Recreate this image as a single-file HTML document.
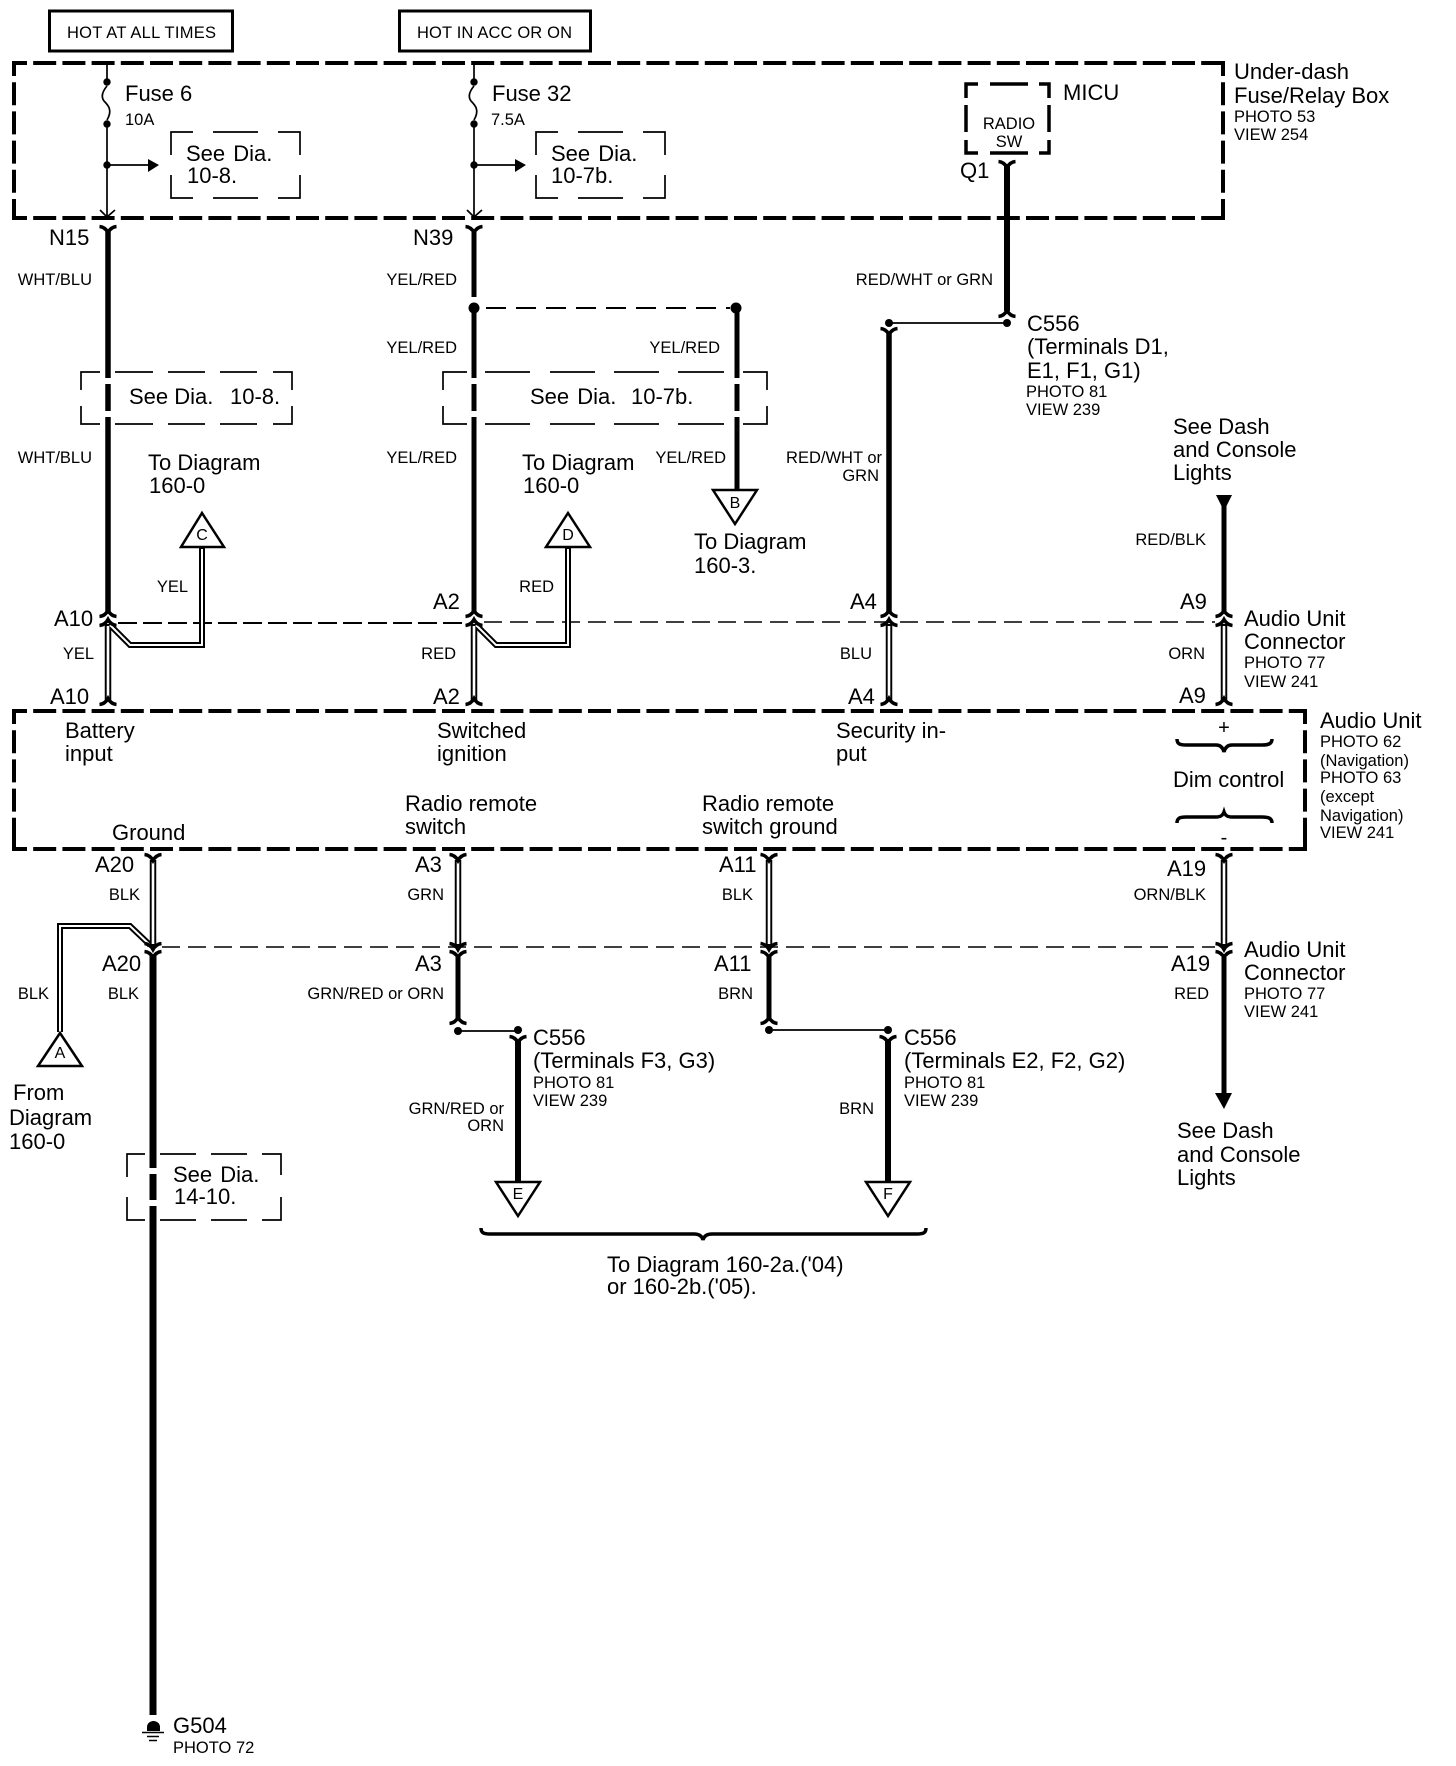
<!DOCTYPE html>
<html><head><meta charset="utf-8"><style>
html,body{margin:0;padding:0;background:#fff}
svg{display:block}
text{font-family:"Liberation Sans",sans-serif;fill:#000}
.b{font-size:22px}.s{font-size:16.5px}.t{font-size:16px;text-anchor:middle}
.e{text-anchor:end}
.n{fill:none;stroke:#000}
.w{word-spacing:2px}
</style></head><body>
<svg xmlns="http://www.w3.org/2000/svg" width="1456" height="1766" viewBox="0 0 1456 1766">
<rect width="1456" height="1766" fill="#fff"/>
<defs>
<path id="cy" class="n" stroke-width="3.5" d="M-8.5,-3.5 Q-3,-3 0,2.5 Q3,-3 8.5,-3.5"/>
<path id="ca" class="n" stroke-width="3.5" d="M-8.5,3.5 Q-3,3 0,-2.5 Q3,3 8.5,3.5"/>
</defs>

<!-- top boxes -->
<rect x="49.5" y="11" width="183" height="40" class="n" stroke-width="3"/>
<rect x="399.5" y="11" width="191" height="40" class="n" stroke-width="3"/>
<text class="s" x="67" y="38" font-size="17" textLength="149">HOT AT ALL TIMES</text>
<text class="s" x="417" y="38" textLength="155">HOT IN ACC OR ON</text>

<!-- heavy dashed boxes -->
<g class="n" stroke-width="4">
<g stroke-dasharray="23 6.2" stroke-dashoffset="10">
<path d="M14,63 H1223"/><path d="M14,218 H1223"/><path d="M14,63 V218"/><path d="M1223,63 V218"/>
<path d="M14,711 H1305"/><path d="M14,849 H1305"/><path d="M14,711 V849"/><path d="M1305,711 V849"/>
</g>
<path d="M14,75 V63 H26 M1211,63 H1223 V75 M14,206 V218 H26 M1211,218 H1223 V206"/>
<path d="M14,723 V711 H26 M1293,711 H1305 V723 M14,837 V849 H26 M1293,849 H1305 V837"/>
</g>

<!-- fuses -->
<g class="n" stroke-width="1.7">
<path d="M107,65 V82 M107,124 V217"/>
<path d="M107,86 C102,92 101,97 104,101 C108,105 113,110 107,120"/>
<path d="M107,165 H150"/>
<path d="M100,210 L107,217 L115,210"/>
<path d="M474,65 V82 M474,124 V217"/>
<path d="M474,86 C469,92 468,97 471,101 C475,105 480,110 474,120"/>
<path d="M474,165 H518"/>
<path d="M467,210 L474,217 L482,210"/>
</g>
<g>
<circle cx="107" cy="82" r="3.7"/><circle cx="107" cy="124" r="3.7"/><circle cx="107" cy="165" r="3.7"/>
<circle cx="474" cy="82" r="3.7"/><circle cx="474" cy="124" r="3.7"/><circle cx="474" cy="165" r="3.7"/>
<path d="M148,159 L159,165 L148,172 Z"/><path d="M515,159 L526,165 L515,172 Z"/>
</g>
<text class="b" x="125" y="101">Fuse 6</text><text class="s" x="125" y="125">10A</text>
<text class="b" x="492" y="101">Fuse 32</text><text class="s" x="491" y="125">7.5A</text>

<!-- thin dashed see-dia boxes -->
<g class="n" stroke-width="1.7">
<path d="M193,132 H171 V155 M213,132 H258 M278,132 H300 V155 M171,175 V198 H193 M213,198 H258 M278,198 H300 V175"/>
<path d="M558,132 H536 V155 M578,132 H623 M643,132 H665 V155 M536,175 V198 H558 M578,198 H623 M643,198 H665 V175"/>
<path d="M100,372 H81 V390 M81,406 V424 H100 M115,372 H153 M168,372 H205 M220,372 H257 M273,372 H292 V390 M115,424 H153 M168,424 H205 M220,424 H257 M273,424 H292 V406"/>
<path d="M467,372 H443 V390 M443,406 V424 H467 M485,372 H530 M550,372 H595 M614,372 H659 M678,372 H724 M743,372 H767 V390 M485,424 H530 M550,424 H595 M614,424 H659 M678,424 H724 M743,424 H767 V406"/>
<path d="M145,1154 H127 V1177 M127,1197 V1220 H145 M160,1154 H196 M211,1154 H247 M262,1154 H281 V1175 M160,1220 H196 M211,1220 H247 M262,1220 H281 V1197"/>
</g>
<text class="b w" x="186" y="161">See Dia.</text><text class="b" x="187" y="183">10-8.</text>
<text class="b w" x="551" y="161">See Dia.</text><text class="b" x="551" y="183">10-7b.</text>
<text class="b" x="129" y="404">See Dia.</text><text class="b" x="230" y="404">10-8.</text>
<text class="b w" x="530" y="404">See Dia.</text><text class="b" x="631" y="404">10-7b.</text>
<text class="b w" x="173" y="1182">See Dia.</text><text class="b" x="174" y="1204">14-10.</text>

<!-- RADIO SW box -->
<path class="n" stroke-width="3.5" d="M978,84 H966 V98 M990,84 H1028 M1039,84 H1049 V98 M966,105 V132 M1049,105 V132 M966,140 V153 H978 M990,153 H1028 M1039,153 H1049 V140"/>
<text class="s" x="1009" y="129" text-anchor="middle">RADIO</text><text class="s" x="1009" y="147" text-anchor="middle">SW</text>
<text class="b" x="1063" y="100">MICU</text>
<text class="b" x="960" y="178">Q1</text>
<text class="b" x="1234" y="79">Under-dash</text><text class="b" x="1234" y="103">Fuse/Relay Box</text>
<text class="s" x="1234" y="122">PHOTO 53</text><text class="s" x="1234" y="140">VIEW 254</text>
<text class="b" x="49" y="245">N15</text><text class="b" x="413" y="245">N39</text>

<!-- thick wires -->
<g class="n">
<path stroke-width="5.5" d="M108,230 V378 M108,384 V411 M108,417 V613"/>
<path stroke-width="5" d="M474,230 V297 M474,308 V378 M474,384 V411 M474,417 V613"/>
<path stroke-width="5" d="M737,308 V378 M737,384 V411 M737,417 V490"/>
<path stroke-width="6" d="M1007,165 V311"/>
<path stroke-width="5.5" d="M889,332 V613"/>
<path stroke-width="5" d="M1224,505 V613"/>
<path stroke-width="7" d="M153,955 V1168 M153,1174 V1200 M153,1206 V1715"/>
<path stroke-width="5" d="M458,955 V1018"/>
<path stroke-width="5" d="M769,955 V1018"/>
<path stroke-width="6" d="M518,1040 V1182"/>
<path stroke-width="6" d="M888,1040 V1182"/>
<path stroke-width="5" d="M1224,955 V1095"/>
<path stroke-width="1.7" d="M458,1031 H518"/>
<path stroke-width="1.7" d="M769,1030 H888"/>
<path stroke-width="1.7" d="M889,323 H1007"/>
<path stroke-width="2" stroke-dasharray="20 10" d="M486,308 H730"/>
<path stroke-width="2" stroke-dasharray="19 6" d="M118,623 H462"/>
<path stroke-width="1.5" stroke-dasharray="18 8" d="M484,622 H1215"/>
<path stroke-width="1.5" stroke-dasharray="18 8" d="M162,947 H1215"/>
</g>
<circle cx="474" cy="308" r="5.5"/><circle cx="736" cy="308" r="5.5"/>
<circle cx="1007" cy="323" r="4"/><circle cx="889" cy="323" r="4"/>
<circle cx="458" cy="1031" r="4"/><circle cx="518" cy="1030" r="4"/>
<circle cx="769" cy="1030" r="4"/><circle cx="888" cy="1030" r="4"/>

<!-- double wires -->
<g fill="none" stroke="#000" stroke-width="6.5" stroke-linejoin="miter">
<path d="M108,624 V700 M474,624 V700 M889,624 V700 M1224,624 V700"/>
<path d="M153,860 V946 M458,860 V946 M769,860 V946 M1224,860 V946"/>
<path stroke-width="6" d="M110,625 L130,645 H202 V548"/>
<path stroke-width="6" d="M476,625 L496,645 H568 V548"/>
<path stroke-width="6" d="M150,945 L130,926 H60 V1032"/>
</g>
<g fill="none" stroke="#fff" stroke-width="2.6">
<path d="M108,626 V698 M474,626 V698 M889,626 V698 M1224,626 V698"/>
<path d="M153,862 V944 M458,862 V944 M769,862 V944 M1224,862 V944"/>
<path stroke-width="2" d="M110,625 L130,645 H202 V549"/>
<path stroke-width="2" d="M476,625 L496,645 H568 V549"/>
<path stroke-width="2" d="M150,945 L130,926 H60 V1032"/>
</g>

<!-- connectors -->
<use href="#cy" x="108" y="230"/><use href="#cy" x="474" y="230"/><use href="#cy" x="1007" y="165"/><use href="#cy" x="889" y="332"/>
<use href="#ca" x="1007" y="313"/>
<use href="#ca" x="108" y="613"/><use href="#ca" x="108" y="622"/><use href="#ca" x="474" y="613"/><use href="#ca" x="474" y="622"/>
<use href="#ca" x="889" y="613"/><use href="#ca" x="889" y="622"/><use href="#ca" x="1224" y="613"/><use href="#ca" x="1224" y="622"/>
<use href="#ca" x="108" y="701"/><use href="#ca" x="474" y="701"/><use href="#ca" x="889" y="701"/><use href="#ca" x="1224" y="701"/>
<use href="#cy" x="153" y="858"/><use href="#cy" x="458" y="858"/><use href="#cy" x="769" y="858"/><use href="#cy" x="1224" y="858"/>
<use href="#cy" x="153" y="947"/><use href="#cy" x="153" y="955"/><use href="#cy" x="458" y="947"/><use href="#cy" x="458" y="955"/>
<use href="#cy" x="769" y="947"/><use href="#cy" x="769" y="955"/><use href="#cy" x="1224" y="947"/><use href="#cy" x="1224" y="955"/>
<use href="#ca" x="458" y="1020"/><use href="#ca" x="769" y="1020"/>
<use href="#cy" x="518" y="1040"/><use href="#cy" x="888" y="1040"/>

<!-- triangles -->
<g fill="#fff" stroke="#000" stroke-width="2.5" stroke-linejoin="miter">
<path d="M202,513 L224,547 H181 Z"/>
<path d="M568,513 L590,547 H546 Z"/>
<path d="M713,490 H757 L735,524 Z"/>
<path d="M60,1033 L82,1066 H38 Z"/>
<path d="M496,1182 H540 L518,1216 Z"/>
<path d="M866,1182 H910 L888,1216 Z"/>
</g>
<text class="t" x="202" y="540">C</text><text class="t" x="568" y="540">D</text><text class="t" x="735" y="508">B</text>
<text class="t" x="60" y="1058">A</text><text class="t" x="518" y="1199">E</text><text class="t" x="888" y="1199">F</text>

<!-- power arrows -->
<path d="M1216,495 H1232 L1224,511 Z"/>
<path d="M1215,1093 H1232 L1224,1109 Z"/>

<!-- ground -->
<path d="M147,1727 A6.5,6 0 0 1 160,1727 L160,1731 H147 Z"/>
<path class="n" stroke-width="1.5" d="M142,1732.5 H164 M147,1736.5 H159 M149,1740.5 H157"/>
<text class="b" x="173" y="1733">G504</text><text class="s" x="173" y="1753">PHOTO 72</text>

<!-- braces -->
<path class="n" stroke-width="3.5" d="M1177,739 C1177,744 1180,745 1186,745 H1216 C1221,745 1223,748 1224,752 C1225,748 1227,745 1232,745 H1262 C1268,745 1272,744 1272,739"/>
<path class="n" stroke-width="3.5" d="M1177,823 C1177,818 1180,817 1186,817 H1216 C1221,817 1223,815 1224,812 C1225,815 1227,817 1232,817 H1262 C1268,817 1272,818 1272,823"/>
<path class="n" stroke-width="3.5" d="M481,1228 C481,1233 484,1234 490,1234 H694 C699,1234 702,1236 703,1240 C704,1236 707,1234 712,1234 H917 C923,1234 926,1233 926,1228"/>

<!-- wire labels -->
<g class="s">
<text class="e" x="92" y="285">WHT/BLU</text><text class="e" x="92" y="463">WHT/BLU</text>
<text class="e" x="457" y="285">YEL/RED</text><text class="e" x="457" y="353">YEL/RED</text><text class="e" x="457" y="463">YEL/RED</text>
<text class="e" x="720" y="353">YEL/RED</text><text class="e" x="726" y="463">YEL/RED</text>
<text class="e" x="993" y="285">RED/WHT or GRN</text>
<text class="e" x="882" y="463">RED/WHT or</text><text class="e" x="879" y="481">GRN</text>
<text class="e" x="1206" y="545">RED/BLK</text>
<text class="e" x="188" y="592">YEL</text><text class="e" x="554" y="592">RED</text>
<text class="e" x="94" y="659">YEL</text><text class="e" x="456" y="659">RED</text><text class="e" x="872" y="659">BLU</text><text class="e" x="1205" y="659">ORN</text>
<text class="e" x="140" y="900">BLK</text><text class="e" x="444" y="900">GRN</text><text class="e" x="753" y="900">BLK</text><text class="e" x="1206" y="900">ORN/BLK</text>
<text class="e" x="49" y="999">BLK</text><text class="e" x="139" y="999">BLK</text><text class="e" x="444" y="999">GRN/RED or ORN</text><text class="e" x="753" y="999">BRN</text><text class="e" x="1209" y="999">RED</text>
<text class="e" x="504" y="1114">GRN/RED or</text><text class="e" x="504" y="1131">ORN</text><text class="e" x="874" y="1114">BRN</text>
</g>

<!-- big labels -->
<g class="b">
<text x="1027" y="331">C556</text><text x="1027" y="354">(Terminals D1,</text><text x="1027" y="378">E1, F1, G1)</text>
<text x="1173" y="434">See Dash</text><text x="1173" y="457">and Console</text><text x="1173" y="480">Lights</text>
<text x="148" y="470">To Diagram</text><text x="149" y="493">160-0</text>
<text x="522" y="470">To Diagram</text><text x="523" y="493">160-0</text>
<text x="694" y="549">To Diagram</text><text x="694" y="573">160-3.</text>
<text x="54" y="626">A10</text><text x="50" y="704">A10</text>
<text x="433" y="609">A2</text><text x="433" y="704">A2</text>
<text x="850" y="609">A4</text><text x="848" y="704">A4</text>
<text x="1180" y="609">A9</text><text x="1179" y="703">A9</text>
<text x="1244" y="626">Audio Unit</text><text x="1244" y="649">Connector</text>
<text x="1320" y="728">Audio Unit</text>
<text x="65" y="738">Battery</text><text x="65" y="761">input</text>
<text x="437" y="738">Switched</text><text x="437" y="761">ignition</text>
<text x="836" y="738">Security in-</text><text x="836" y="761">put</text>
<text x="1173" y="787">Dim control</text>
<text x="405" y="811">Radio remote</text><text x="405" y="834">switch</text>
<text x="702" y="811">Radio remote</text><text x="702" y="834">switch ground</text>
<text x="112" y="840">Ground</text>
<text x="95" y="872">A20</text><text x="415" y="872">A3</text><text x="719" y="872">A11</text><text x="1167" y="876">A19</text>
<text x="102" y="971">A20</text><text x="415" y="971">A3</text><text x="714" y="971">A11</text><text x="1171" y="971">A19</text>
<text x="1244" y="957">Audio Unit</text><text x="1244" y="980">Connector</text>
<text x="533" y="1045">C556</text><text x="533" y="1068">(Terminals F3, G3)</text>
<text x="904" y="1045">C556</text><text x="904" y="1068">(Terminals E2, F2, G2)</text>
<text x="1177" y="1138">See Dash</text><text x="1177" y="1162">and Console</text><text x="1177" y="1185">Lights</text>
<text x="13" y="1100">From</text><text x="9" y="1125">Diagram</text><text x="9" y="1149">160-0</text>
<text x="607" y="1272">To Diagram 160-2a.('04)</text>
<text x="607" y="1294">or 160-2b.('05).</text>
</g>

<!-- small labels -->
<g class="s">
<text x="1026" y="397">PHOTO 81</text><text x="1026" y="415">VIEW 239</text>
<text x="1244" y="668">PHOTO 77</text><text x="1244" y="687">VIEW 241</text>
<text x="1320" y="747">PHOTO 62</text><text x="1320" y="766">(Navigation)</text><text x="1320" y="783">PHOTO 63</text>
<text x="1320" y="802">(except</text><text x="1320" y="821">Navigation)</text><text x="1320" y="838">VIEW 241</text>
<text x="1244" y="999">PHOTO 77</text><text x="1244" y="1017">VIEW 241</text>
<text x="533" y="1088">PHOTO 81</text><text x="533" y="1106">VIEW 239</text>
<text x="904" y="1088">PHOTO 81</text><text x="904" y="1106">VIEW 239</text>
</g>
<text x="1224" y="734" text-anchor="middle" font-size="20">+</text>
<text x="1224" y="844" text-anchor="middle" font-size="20">-</text>
</svg>
</body></html>
